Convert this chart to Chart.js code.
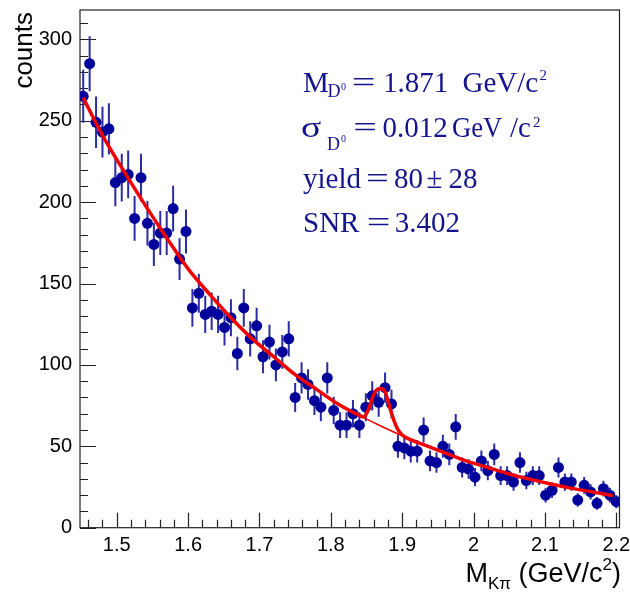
<!DOCTYPE html>
<html>
<head>
<meta charset="utf-8">
<script src="https://cdn.jsdelivr.net/npm/chart.js@4.4.1/dist/chart.umd.min.js"></script>
<style>
  html, body { margin: 0; padding: 0; background: #fff; }
  #massChart { display: block; }
</style>
</head>
<body>
<canvas id="massChart" width="630" height="592"></canvas>
<script>
// bin centres (GeV/c^2)
const binCenters = [
  1.453, 1.462, 1.471, 1.480, 1.489, 1.498, 1.507, 1.516, 1.525, 1.534,
  1.543, 1.552, 1.561, 1.570, 1.579, 1.588, 1.597, 1.606, 1.615, 1.624,
  1.633, 1.642, 1.651, 1.660, 1.669, 1.678, 1.687, 1.696, 1.705, 1.714,
  1.723, 1.732, 1.741, 1.750, 1.759, 1.768, 1.777, 1.786, 1.795, 1.804,
  1.813, 1.822, 1.831, 1.840, 1.849, 1.858, 1.867, 1.876, 1.885, 1.894,
  1.903, 1.912, 1.921, 1.930, 1.939, 1.948, 1.957, 1.966, 1.975, 1.984,
  1.993, 2.002, 2.011, 2.020, 2.029, 2.038, 2.047, 2.056, 2.065, 2.074,
  2.083, 2.092, 2.101, 2.110, 2.119, 2.128, 2.137, 2.146, 2.155, 2.164,
  2.173, 2.182, 2.191, 2.200
];
const counts = [
  265, 285, 249, 243, 245, 212, 215, 217, 190, 215,
  187, 174, 181, 181, 196, 165, 182, 135, 144, 131,
  133, 131, 123, 129, 107, 135, 116, 124, 105, 114,
  100, 108, 116, 80, 92, 88, 78, 74, 92, 72,
  63, 63, 70, 63, 74, 81, 77, 86, 76, 50,
  49, 47, 47, 60, 41, 40, 50, 45, 62, 37,
  36, 31, 41, 35, 45, 32, 32, 28, 40, 29,
  32, 32, 20, 23, 37, 28, 28, 17, 26, 22,
  15, 24, 20, 16
];
const countErrors = [
  16.3, 16.9, 15.8, 15.6, 15.7, 14.6, 14.7, 14.7, 13.8, 14.7,
  13.7, 13.2, 13.5, 13.5, 14.0, 12.8, 13.5, 11.6, 12.0, 11.4,
  11.5, 11.4, 11.1, 11.4, 10.3, 11.6, 10.8, 11.1, 10.2, 10.7,
  10.0, 10.4, 10.8, 8.9, 9.6, 9.4, 8.8, 8.6, 9.6, 8.5,
  7.9, 7.9, 8.4, 7.9, 8.6, 9.0, 8.8, 9.3, 8.7, 7.1,
  7.0, 6.9, 6.9, 7.7, 6.4, 6.3, 7.1, 6.7, 7.9, 6.1,
  6.0, 5.6, 6.4, 5.9, 6.7, 5.7, 5.7, 5.3, 6.3, 5.4,
  5.7, 5.7, 4.5, 4.8, 6.1, 5.3, 5.3, 4.1, 5.1, 4.7,
  3.9, 4.9, 4.5, 4.0
];

// fit curves
const fitX = [1.453, 1.48, 1.51, 1.54, 1.57, 1.60, 1.63, 1.66, 1.69, 1.72, 1.75, 1.78, 1.81, 1.84,
  1.846, 1.851, 1.855, 1.8585, 1.862, 1.869, 1.876, 1.881, 1.886, 1.893, 1.900, 1.907,
  1.93, 1.96, 1.99, 2.02, 2.05, 2.08, 2.11, 2.14, 2.17, 2.195];
const fitY = [264, 241, 219, 198, 178, 159, 143.5, 129, 116, 105, 94, 85, 76, 69,
  68, 71, 75.5, 80, 83.5, 85.5, 83.5, 76.5, 69, 61, 57, 55,
  51, 46, 41, 37, 33, 29.7, 26.7, 24, 21.7, 19.7];
const bkgX = [1.453, 1.48, 1.51, 1.54, 1.57, 1.60, 1.63, 1.66, 1.69, 1.72, 1.75, 1.78, 1.81, 1.84,
  1.87, 1.90, 1.93, 1.96, 1.99, 2.02, 2.05, 2.08, 2.11, 2.14, 2.17, 2.195];
const bkgY = [264, 241, 219, 198, 178, 159, 143.5, 129, 116, 105, 94, 85, 76, 69,
  62.5, 56.5, 51, 46, 41, 37, 33, 29.7, 26.7, 24, 21.7, 19.7];

const xTicks = [1.5, 1.6, 1.7, 1.8, 1.9, 2.0, 2.1, 2.2];
const xTickLabels = ['1.5', '1.6', '1.7', '1.8', '1.9', '2', '2.1', '2.2'];
const yTicks = [0, 50, 100, 150, 200, 250, 300];
const yTickLabels = ['0', '50', '100', '150', '200', '250', '300'];

// fit results box, one entry per line: [baseline, pieces]; cx = centred on x
const fitLines = [
  [92, [{ t: 'M', x: 303 }, { t: 'D', x: 327.5, size: 18, dy: 5 }, { t: '0', x: 341, size: 10, dy: -2 },
        { t: '=', cx: 363.5, sx: 1.45 }, { t: '1.871', x: 383 }, { t: 'GeV/c', x: 462.5 },
        { t: '2', x: 539.5, size: 15, dy: -12 }]],
  [137, [{ t: 'σ', x: 301, sx: 1.3 }, { t: 'D', x: 327, size: 18, dy: 13 }, { t: '0', x: 341, size: 10, dy: 5 },
         { t: '=', cx: 365, sx: 1.45 }, { t: '0.012', x: 382.5 }, { t: 'GeV', x: 452, sx: 0.92 },
         { t: '/c', x: 510 }, { t: '2', x: 533, size: 15, dy: -10 }]],
  [188, [{ t: 'yield', x: 303 }, { t: '=', cx: 377.5, sx: 1.4 }, { t: '80', x: 394 },
         { t: '±', x: 426.5 }, { t: '28', x: 448.5 }]],
  [232, [{ t: 'SNR', x: 303 }, { t: '=', cx: 378.5, sx: 1.45 }, { t: '3.402', x: 394.7 }]]
];

function drawAt(ctx, pieces, y, family, baseSize) {
  for (const p of pieces) {
    ctx.font = (p.size || baseSize) + 'px ' + family;
    const sx = p.sx || 1;
    const x0 = p.cx !== undefined ? p.cx - ctx.measureText(p.t).width * sx / 2 : p.x;
    ctx.save();
    ctx.translate(x0, y + (p.dy || 0));
    ctx.scale(sx, 1);
    ctx.fillText(p.t, 0, 0);
    ctx.restore();
  }
}

function drawFlow(ctx, pieces, xRight, y, family, baseSize) {
  let w = 0;
  for (const p of pieces) {
    ctx.font = (p.size || baseSize) + 'px ' + family;
    w += ctx.measureText(p.t).width;
  }
  let cx = xRight - w;
  for (const p of pieces) {
    ctx.font = (p.size || baseSize) + 'px ' + family;
    ctx.fillText(p.t, cx, y + (p.dy || 0));
    cx += ctx.measureText(p.t).width;
  }
}

const rootStyle = {
  id: 'rootStyle',
  beforeDatasetsDraw(chart) {
    const { ctx, chartArea: a, scales: { x, y } } = chart;
    ctx.save();
    // frame
    ctx.strokeStyle = '#222';
    ctx.lineWidth = 1.2;
    ctx.strokeRect(a.left, a.top, a.right - a.left, a.bottom - a.top);
    // ticks inside the frame
    ctx.beginPath();
    for (let v = 0; v <= 310; v += 10) {
      const py = Math.round(y.getPixelForValue(v)) + 0.5;
      const len = v % 50 === 0 ? 16 : 8;
      ctx.moveTo(a.left, py);
      ctx.lineTo(a.left + len, py);
    }
    for (let k = 73; k <= 110; k++) {
      const px = Math.round(x.getPixelForValue(k / 50)) + 0.5;
      const len = k % 5 === 0 ? 15 : 8;
      ctx.moveTo(px, a.bottom);
      ctx.lineTo(px, a.bottom - len);
    }
    ctx.stroke();

    // error bars
    ctx.strokeStyle = '#2b2ba3';
    ctx.lineWidth = 2;
    ctx.beginPath();
    binCenters.forEach((bx, i) => {
      const px = x.getPixelForValue(bx);
      ctx.moveTo(px, y.getPixelForValue(counts[i] - countErrors[i]));
      ctx.lineTo(px, y.getPixelForValue(counts[i] + countErrors[i]));
    });
    ctx.stroke();
    ctx.restore();
  },
  afterDraw(chart) {
    const { ctx } = chart;
    ctx.save();
    ctx.textBaseline = 'alphabetic';
    ctx.fillStyle = '#14148c';
    const serif = '"Liberation Serif", "DejaVu Serif", serif';
    fitLines.forEach(([base, pieces]) => drawAt(ctx, pieces, base, serif, 29));

    // axis titles
    ctx.fillStyle = '#000';
    const sans = '"Liberation Sans", Arial, sans-serif';
    drawFlow(ctx, [{ t: 'M' }, { t: 'Kπ', size: 17, dy: 7 }, { t: ' (GeV/c' },
      { t: '2', size: 17, dy: -12 }, { t: ')' }], 621, 582, sans, 27);

    ctx.translate(32, 12);
    ctx.rotate(-Math.PI / 2);
    ctx.textAlign = 'right';
    ctx.font = '26px ' + sans;
    ctx.fillText('counts', 0, 0);
    ctx.restore();
  }
};

const ctx = document.getElementById('massChart').getContext('2d');
new Chart(ctx, {
  type: 'scatter',
  data: {
    datasets: [
      {
        label: 'fit',
        data: fitX.map((v, i) => ({ x: v, y: fitY[i] })),
        showLine: true,
        borderColor: '#f00000',
        borderWidth: 3.5,
        pointRadius: 0,
        cubicInterpolationMode: 'monotone',
        order: 0
      },
      {
        label: 'background',
        data: bkgX.map((v, i) => ({ x: v, y: bkgY[i] })),
        showLine: true,
        borderColor: '#f00000',
        borderWidth: 1.5,
        pointRadius: 0,
        cubicInterpolationMode: 'monotone',
        order: 1
      },
      {
        label: 'data',
        data: binCenters.map((v, i) => ({ x: v, y: counts[i] })),
        backgroundColor: '#00009a',
        borderWidth: 0,
        pointRadius: 5.5,
        order: 2
      }
    ]
  },
  options: {
    responsive: false,
    animation: false,
    layout: { padding: { left: 0, top: 10, right: 10.5, bottom: 0 } },
    plugins: { legend: { display: false }, tooltip: { enabled: false } },
    scales: {
      x: {
        type: 'linear',
        min: 1.4485,
        max: 2.2045,
        grid: { display: false, drawTicks: false },
        border: { display: false },
        afterBuildTicks: s => { s.ticks = xTicks.map(v => ({ value: v })); },
        afterFit: s => { s.height = 64.3; s.paddingLeft = 0; s.paddingRight = 0; },
        ticks: {
          padding: 6,
          maxRotation: 0,
          autoSkip: false,
          color: '#000',
          font: { family: '"Liberation Sans", Arial, sans-serif', size: 20 },
          callback: v => xTickLabels[xTicks.findIndex(t => Math.abs(t - v) < 1e-6)]
        }
      },
      y: {
        type: 'linear',
        min: 0,
        max: 318,
        grid: { display: false, drawTicks: false },
        border: { display: false },
        afterBuildTicks: s => { s.ticks = yTicks.map(v => ({ value: v })); },
        afterFit: s => { s.width = 80; s.paddingTop = 0; s.paddingBottom = 0; },
        ticks: {
          padding: 8,
          autoSkip: false,
          color: '#000',
          font: { family: '"Liberation Sans", Arial, sans-serif', size: 20 },
          callback: v => yTickLabels[yTicks.indexOf(v)]
        }
      }
    }
  },
  plugins: [rootStyle]
});
</script>
</body>
</html>
